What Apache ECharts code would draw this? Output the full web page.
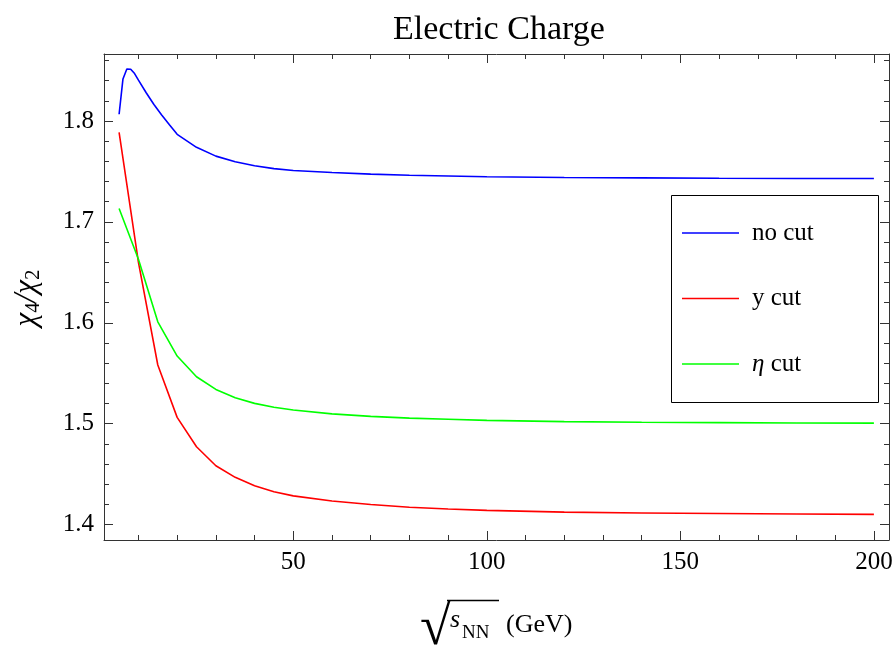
<!DOCTYPE html>
<html>
<head>
<meta charset="utf-8">
<script src="https://cdn.jsdelivr.net/npm/echarts@6/dist/echarts.min.js"></script>
<style>
html,body{margin:0;padding:0;background:#fff;}
#chart{width:896px;height:647px;}
</style>
</head>
<body>
<div id="chart"></div>
<script>
// ---- data ----
const energyNoCut = [5, 6, 7, 8, 9, 10, 12, 14, 16, 18, 20, 25, 30, 35, 40, 45, 50, 60, 70, 80, 90, 100, 120, 140, 160, 180, 200];
const noCut = [1.8067, 1.8417, 1.8516, 1.8513, 1.8470, 1.8405, 1.8280, 1.8163, 1.8060, 1.7963, 1.7868, 1.7739, 1.7652, 1.7596, 1.7556, 1.7528, 1.7510, 1.7489, 1.7474, 1.7463, 1.7455, 1.7448, 1.7440, 1.7436, 1.7433, 1.7431, 1.7430];
const energyCut = [5, 10, 15, 20, 25, 30, 35, 40, 45, 50, 60, 70, 80, 90, 100, 120, 140, 160, 180, 200];
const yCut = [1.7888, 1.6600, 1.5582, 1.5063, 1.4772, 1.4584, 1.4469, 1.4386, 1.4326, 1.4285, 1.4235, 1.4200, 1.4173, 1.4155, 1.4142, 1.4124, 1.4116, 1.4110, 1.4106, 1.4102];
const etaCut = [1.7133, 1.6630, 1.6010, 1.5671, 1.5466, 1.5340, 1.5258, 1.5202, 1.5163, 1.5136, 1.5098, 1.5073, 1.5056, 1.5044, 1.5033, 1.5021, 1.5015, 1.5011, 1.5008, 1.5006];
const seriesNames = ['no cut', 'y cut', 'η cut'];
const xMajorTicks = [50, 100, 150, 200];
const xMinorTicks = [10, 20, 30, 40, 60, 70, 80, 90, 110, 120, 130, 140, 160, 170, 180, 190];
const yMajorTicks = [1.4, 1.5, 1.6, 1.7, 1.8];
const yMinorTicks = [1.42, 1.44, 1.46, 1.48, 1.52, 1.54, 1.56, 1.58, 1.62, 1.64, 1.66, 1.68, 1.72, 1.74, 1.76, 1.78, 1.82, 1.84, 1.86];
const titleText = 'Electric Charge';

// ---- chart ----
const FONT = 'Liberation Serif';
const X_MIN = 1.1, X_MAX = 203.9, Y_MIN = 1.3848, Y_MAX = 1.8664;
const AX = '#333';

function xAx(position, ticks, len, labels, line) {
  return {
    type: 'value', gridIndex: 0, position: position, min: X_MIN, max: X_MAX,
    axisLine: {show: line, onZero: false, lineStyle: {color: AX, width: 1}},
    axisTick: {show: true, inside: true, length: len, customValues: ticks, lineStyle: {color: AX, width: 1}},
    axisLabel: {show: labels, customValues: ticks, margin: 10, fontFamily: FONT, fontSize: 25, color: '#000'},
    splitLine: {show: false}, minorTick: {show: false}
  };
}
function yAx(position, ticks, len, labels, line) {
  return {
    type: 'value', gridIndex: 0, position: position, min: Y_MIN, max: Y_MAX,
    axisLine: {show: line, onZero: false, lineStyle: {color: AX, width: 1}},
    axisTick: {show: true, inside: true, length: len, customValues: ticks, lineStyle: {color: AX, width: 1}},
    axisLabel: {show: labels, customValues: ticks, margin: 10, fontFamily: FONT, fontSize: 25, color: '#000',
      formatter: v => Number(v).toFixed(1)},
    splitLine: {show: false}, minorTick: {show: false}
  };
}
function pairs(xs, ys) { return xs.map((x, i) => [x, ys[i]]); }

const chart = echarts.init(document.getElementById('chart'), null, {renderer: 'canvas'});
const option = {
  animation: false,
  backgroundColor: '#fff',
  title: {
    text: titleText, left: 388, top: 8,
    textStyle: {fontFamily: FONT, fontSize: 34, fontWeight: 'normal', color: '#000'}
  },
  grid: {left: 104, top: 54, width: 785, height: 486, containLabel: false},
  xAxis: [
    xAx('bottom', xMajorTicks, 9, true, true),
    xAx('bottom', xMinorTicks, 5, false, false),
    xAx('top', xMajorTicks, 9, false, true),
    xAx('top', xMinorTicks, 5, false, false)
  ],
  yAxis: [
    yAx('left', yMajorTicks, 9, true, true),
    yAx('left', yMinorTicks, 5, false, false),
    yAx('right', yMajorTicks, 9, false, true),
    yAx('right', yMinorTicks, 5, false, false)
  ],
  legend: {
    orient: 'vertical', left: 682, top: 220, padding: 0,
    icon: 'rect', itemWidth: 57, itemHeight: 1.5, itemGap: 39.5,
    data: seriesNames,
    formatter: name => name === 'η cut' ? '{i|η} cut' : name,
    textStyle: {fontFamily: FONT, fontSize: 25, color: '#000', lineHeight: 26, padding: [0, 0, 0, 8],
      rich: {i: {fontFamily: FONT, fontSize: 25, fontStyle: 'italic', color: '#000'}}}
  },
  series: [
    {name: seriesNames[0], type: 'line', data: pairs(energyNoCut, noCut), showSymbol: false, symbol: 'none',
      lineStyle: {color: '#0000ff', width: 1.6}, itemStyle: {color: '#0000ff'}},
    {name: seriesNames[1], type: 'line', data: pairs(energyCut, yCut), showSymbol: false, symbol: 'none',
      lineStyle: {color: '#ff0000', width: 1.6}, itemStyle: {color: '#ff0000'}},
    {name: seriesNames[2], type: 'line', data: pairs(energyCut, etaCut), showSymbol: false, symbol: 'none',
      lineStyle: {color: '#00ff00', width: 1.6}, itemStyle: {color: '#00ff00'}}
  ],
  graphic: [
    {type: 'rect', shape: {x: 671.5, y: 195.5, width: 207, height: 207}, z: -1,
      style: {fill: '#fff', stroke: '#000', lineWidth: 1}},
    // y axis title  chi_4 / chi_2
    {type: 'text', x: 27, y: 298, rotation: Math.PI / 2,
      style: {text: '{c|χ}{s|4}{c|/}{c|χ}{s|2}', align: 'center', verticalAlign: 'middle',
        rich: {
          c: {fontFamily: FONT, fontSize: 31, fontStyle: 'italic', color: '#000'},
          s: {fontFamily: FONT, fontSize: 21, color: '#000', padding: [13, 0, 0, 0]}
        }}},
    // x axis title  sqrt(s_NN) (GeV)
    {type: 'text', x: 420, y: 657, style: {text: '√', fontFamily: FONT, fontSize: 56, fill: '#000',
      align: 'left', verticalAlign: 'bottom'}},
    {type: 'line', shape: {x1: 447, y1: 600.5, x2: 499, y2: 600.5}, style: {stroke: '#000', lineWidth: 1.3}},
    {type: 'text', x: 450, y: 620, style: {text: 's', fontFamily: FONT, fontSize: 26, fontStyle: 'italic',
      fill: '#000', align: 'left', verticalAlign: 'middle'}},
    {type: 'text', x: 462, y: 633, style: {text: 'NN', fontFamily: FONT, fontSize: 19,
      fill: '#000', align: 'left', verticalAlign: 'middle'}},
    {type: 'text', x: 506, y: 625, style: {text: '(GeV)', fontFamily: FONT, fontSize: 26,
      fill: '#000', align: 'left', verticalAlign: 'middle'}}
  ]
};
chart.setOption(option);
</script>
</body>
</html>
